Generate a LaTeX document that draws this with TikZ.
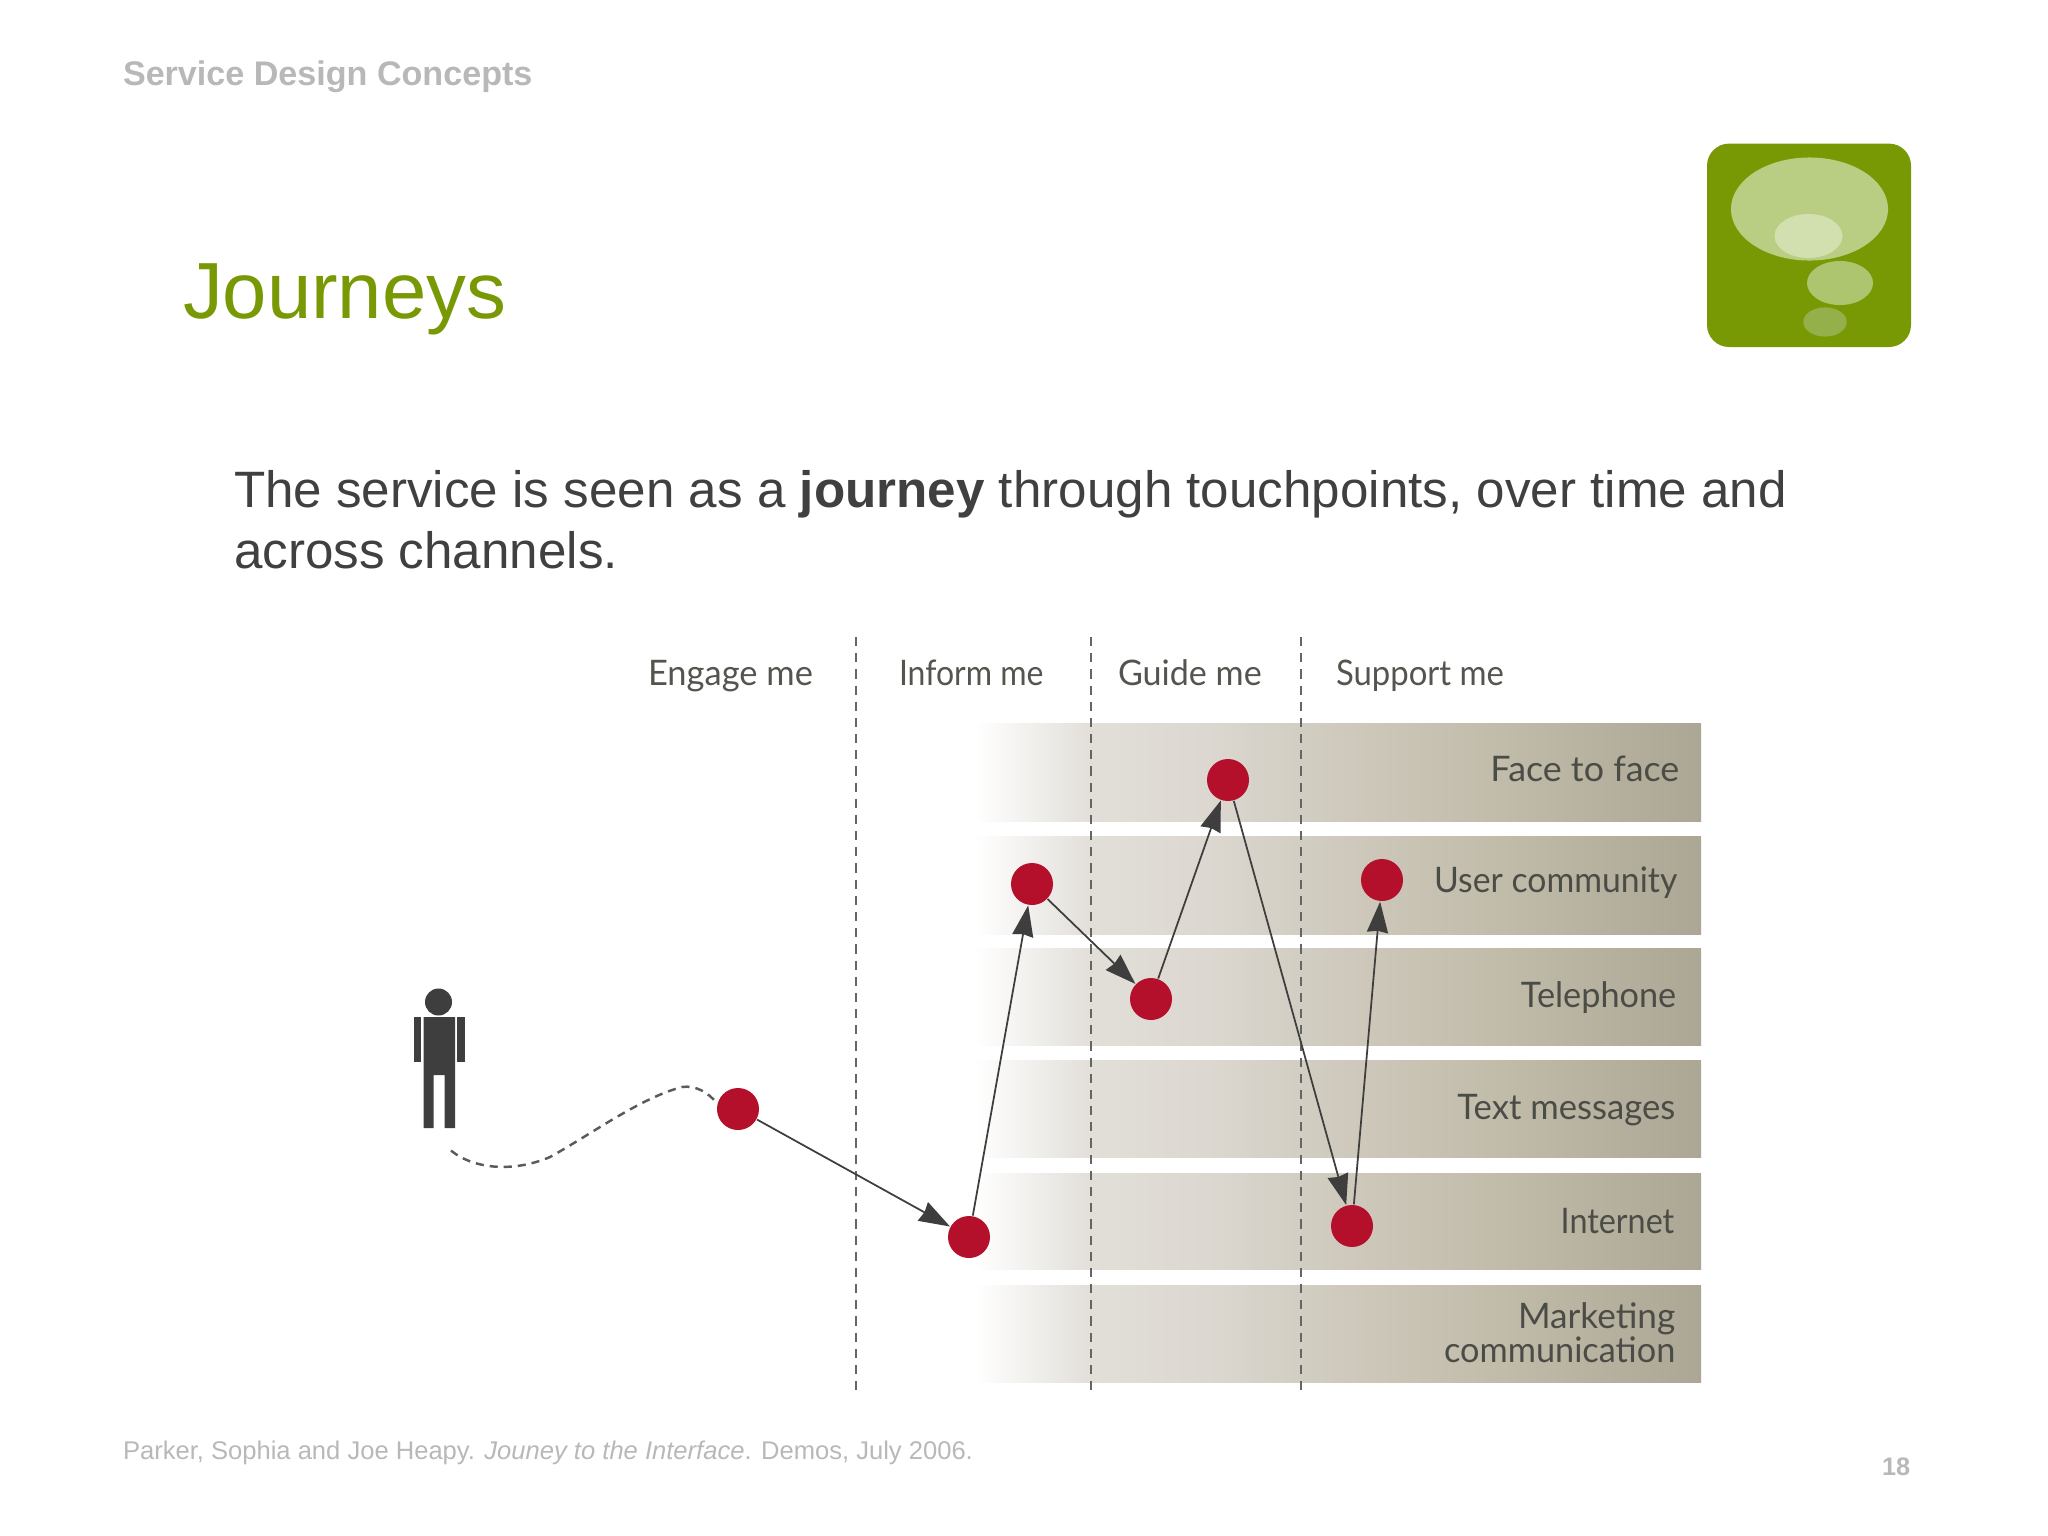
\documentclass[tikz,border=0pt]{standalone}
\usepackage{fontspec}
\setmainfont{Liberation Sans}
\newfontfamily\labelfont{Lato}
\newcommand{\widthat}[2]{{\addfontfeatures{FakeStretch=#1}#2}}
\usetikzlibrary{arrows.meta}
\definecolor{olivegreen}{HTML}{789904}
\definecolor{softgray}{HTML}{B8B8B8}
\definecolor{bodygray}{HTML}{404040}
\definecolor{labelgray}{HTML}{55554F}
\definecolor{dotred}{HTML}{B5102B}
\definecolor{inkgray}{HTML}{3E3E3E}
\definecolor{bandA}{HTML}{E2DFD9}
\definecolor{bandB}{HTML}{DCD7D0}
\definecolor{bandC}{HTML}{CFCABD}
\definecolor{bandE}{HTML}{C0BAA8}
\definecolor{bandD}{HTML}{ACA794}
\definecolor{bandW}{HTML}{FFFFFF}
\pgfdeclarehorizontalshading{bandshade}{100bp}{
  color(0bp)=(bandW);
  color(25bp)=(bandW);
  color(33bp)=(bandA);
  color(41bp)=(bandB);
  color(50bp)=(bandC);
  color(62bp)=(bandE);
  color(75bp)=(bandD);
  color(100bp)=(bandD)}
\tikzset{
  txt/.style={anchor=base west,inner sep=0pt,outer sep=0pt,align=left},
  header/.style={txt,text=softgray,font=\fontsize{9.7}{12}\selectfont\bfseries},
  titletext/.style={txt,text=olivegreen,font=\fontsize{22.65}{26}\selectfont},
  bodytext/.style={txt,text=bodygray,font=\fontsize{14.55}{18}\selectfont},
  foot/.style={txt,text=softgray,font=\fontsize{7.27}{9}\selectfont},
  pagenum/.style={anchor=base east,inner sep=0pt,text=softgray,font=\fontsize{7.2}{9}\selectfont\bfseries},
  phase/.style={txt,text=labelgray,font=\fontsize{10}{12}\labelfont\selectfont},
  channel/.style={anchor=base east,inner sep=0pt,text=labelgray!90!black,font=\fontsize{10}{12}\labelfont\selectfont},
  band/.style={shading=bandshade,shading angle=0},
  divider/.style={draw=inkgray!80,line width=0.7pt,dash pattern=on 2.6pt off 2pt},
  touch/.style={circle,fill=dotred,inner sep=0pt,minimum size=0.42cm},
  hop/.style={draw=inkgray,line width=0.5pt,-{Stealth[length=8.8pt,width=6pt,inset=0.5pt]}},
  figure/.style={fill=inkgray,draw=none},
}
\begin{document}
\begin{tikzpicture}[x=0.01cm,y=-0.01cm]
\useasboundingbox (0,0) rectangle (2048,1536);
% header
\node[header] (hd) at (123,85) {Service Design Concepts};
\node[titletext] (ttl) at (183,318) {Journeys};
\node[bodytext] (b1) at (234,507) {The service is seen as a \textbf{journey} through touchpoints, over time and};
\node[bodytext] (b2) at (234,568.5) {across channels.};
\node[foot] (ft) at (123,1459) {Parker, Sophia and Joe Heapy. \textit{Jouney to the Interface}. Demos, July 2006.};
\node[pagenum] (pg) at (1911,1475) {18};
% logo
\fill[olivegreen,rounded corners=0.22cm] (1707,143.6) rectangle (1911,347);
\fill[color={rgb,255:red,185;green,206;blue,130}] (1809.5,209) ellipse [x radius=0.785cm,y radius=0.515cm];
\fill[color={rgb,255:red,210;green,223;blue,174}] (1808.5,236) ellipse [x radius=0.34cm,y radius=0.22cm];
\fill[color={rgb,255:red,174;green,197;blue,112}] (1840,283) ellipse [x radius=0.33cm,y radius=0.22cm];
\fill[color={rgb,255:red,148;green,176;blue,74}] (1825,322) ellipse [x radius=0.217cm,y radius=0.146cm];
% bands
\foreach \a/\b in {723.6/821.5,836/934,948/1045,1060.5/1157,1173/1269.5,1285/1382}
  \path[band] (975,\a) rectangle (1701,\b);
% band labels
\node[channel] (c1) at (1680,781) {\widthat{1.02}{Face to face}};
\node[channel] (c2) at (1678,892) {\widthat{0.96}{User community}};
\node[channel] (c3) at (1677,1007) {\widthat{0.975}{Telephone}};
\node[channel] (c4) at (1676,1119) {\widthat{0.985}{Text messages}};
\node[channel] (c5) at (1675,1233) {\widthat{0.92}{Internet}};
\node[channel] (c6) at (1676,1328) {\widthat{1.0}{Marketing}};
\node[channel] (c7) at (1676,1362) {\widthat{0.975}{communication}};
% phase labels
\node[phase] (p1) at (648,685.5) {\widthat{0.98}{Engage me}};
\node[phase] (p2) at (899,685.5) {\widthat{0.91}{Inform me}};
\node[phase] (p3) at (1118,685.5) {\widthat{0.97}{Guide me}};
\node[phase] (p4) at (1336,685.5) {\widthat{0.935}{Support me}};
% dividers
\coordinate (d1a) at (856,637); \coordinate (d1b) at (856,1392);
\coordinate (d2a) at (1091,637); \coordinate (d2b) at (1091,1392);
\coordinate (d3a) at (1301,637); \coordinate (d3b) at (1301,1392);
\draw[divider] (d1a) -- (d1b);
\draw[divider] (d2a) -- (d2b);
\draw[divider] (d3a) -- (d3b);
% touchpoints
\node[touch] (t1) at (738,1109) {};
\node[touch] (t2) at (969,1237) {};
\node[touch] (t3) at (1032,884) {};
\node[touch] (t4) at (1151,999) {};
\node[touch] (t5) at (1228,780) {};
\node[touch] (t6) at (1352,1226) {};
\node[touch] (t7) at (1382,880) {};
\draw[hop] (t1) -- (t2);
\draw[hop] (t2) -- (t3);
\draw[hop] (t3) -- (t4);
\draw[hop] (t4) -- (t5);
\draw[hop] (t5) -- (t6);
\draw[hop] (t6) -- (t7);
% person
\fill[figure] (438.5,1002) circle [radius=0.135cm];
\fill[figure] (423.5,1017) -- (455,1017) -- (455,1128) -- (444.5,1128) -- (444.5,1075) -- (433.5,1075) -- (433.5,1128) -- (423.5,1128) -- cycle;
\fill[figure] (413.5,1017) rectangle (421,1062);
\fill[figure] (457,1017) rectangle (464.5,1062);
% wandering path
\coordinate (ws) at (451,1150.6);
\draw[draw=inkgray!85,line width=0.7pt,dash pattern=on 2.3pt off 1.7pt] (ws) .. controls (475,1170) and (515,1172) .. (550,1157) .. controls (590,1135) and (640,1098) .. (682,1087) .. controls (695,1085) and (708,1092) .. (t1.165);
\end{tikzpicture}
\end{document}
